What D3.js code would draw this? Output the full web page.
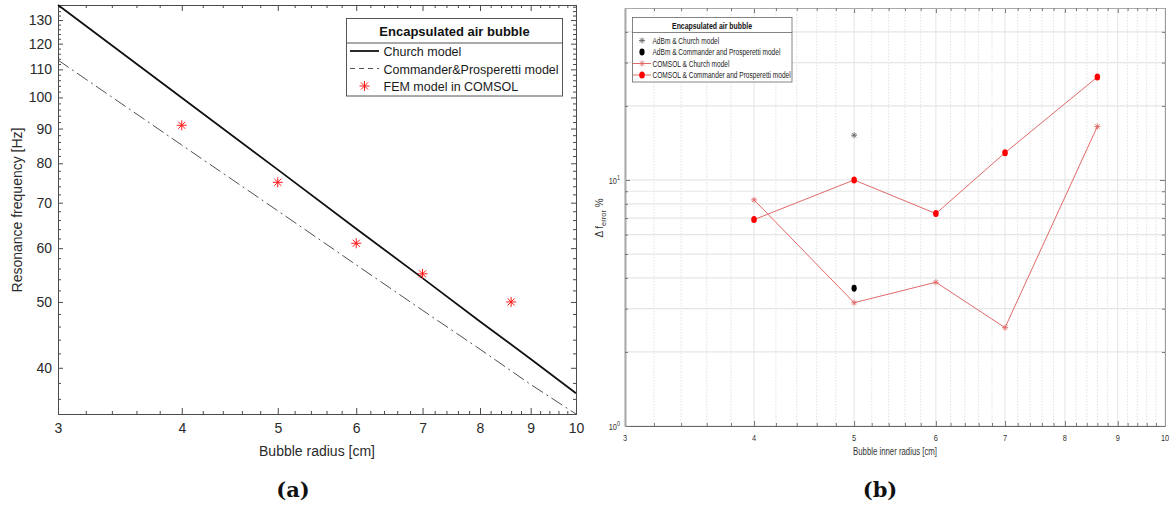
<!DOCTYPE html>
<html><head><meta charset="utf-8">
<script src="https://cdn.jsdelivr.net/npm/d3@7"></script>
<style>
html,body{margin:0;padding:0;background:#fff;}
svg{display:block;font-family:"Liberation Sans",Arial,sans-serif;}
</style></head>
<body><svg id="c" width="1174" height="508"></svg>
<script>
// ---------- Data, panel (a) ----------
const radiusA = [3, 4, 5, 6, 7, 8, 9, 10];
const churchFreq = [136.8, 99.9, 78.3, 64.1, 54.2, 46.8, 41.2, 36.7];
const cpFreq = [113.5, 85.1, 68.1, 56.7, 48.6, 42.6, 37.8, 34.2];
const femRadius = [4, 5, 6, 7, 8.6];
const femFreq = [91, 75, 61, 55, 50];
const xTicksA = [3, 4, 5, 6, 7, 8, 9, 10];
const yTicksA = [40, 50, 60, 70, 80, 90, 100, 110, 120, 130];
const legendA = ["Church model", "Commander&Prosperetti model", "FEM model in COMSOL"];

// ---------- Data, panel (b) ----------
const radiusB = [4, 5, 6, 7, 8.6];
const comsolChurch = [8.3, 3.17, 3.84, 2.51, 16.5];
const comsolCP = [6.9, 10.0, 7.3, 12.9, 26.2];
const adbmRadius = [5];
const adbmChurch = [15.2];
const adbmCP = [3.63];
const xTicksB = [3, 4, 5, 6, 7, 8, 9, 10];
const yTicksB = [1, 10];
const legendB = ["AdBm & Church model", "AdBm & Commander and Prosperetti model",
                 "COMSOL & Church model", "COMSOL & Commander and Prosperetti model"];

const svg = d3.select("#c");

function starPath(s) {
  const d = s * 0.707;
  return `M${-s},0L${s},0M0,${-s}L0,${s}M${-d},${-d}L${d},${d}M${-d},${d}L${d},${-d}`;
}

// ================= Panel (a) =================
(function () {
  const x = d3.scaleLog().domain([3, 10]).range([58, 576]);
  const y = d3.scaleLog().domain([34.2, 136.8]).range([414, 5]);
  const g = svg.append("g");
  const axisCol = "#4a4a4a", txtCol = "#2a2a2a";

  const minorX = d3.range(3, 10.001, 0.2).map(v => +v.toFixed(1)).filter(v => !xTicksA.includes(v));
  const minorY = d3.range(36, 137, 2).filter(v => !yTicksA.includes(v));

  function styleAxis(sel) {
    sel.select(".domain").attr("stroke", axisCol).attr("stroke-width", 1);
    sel.selectAll(".tick line").attr("stroke", axisCol);
    sel.selectAll("text").attr("fill", txtCol).attr("font-size", 14)
      .attr("font-family", "Liberation Sans, Arial, sans-serif");
  }
  g.append("g").attr("transform", "translate(0,414)")
    .call(d3.axisBottom(x).tickValues(xTicksA).tickFormat(d3.format("d")).tickSize(-6).tickPadding(9).tickSizeOuter(0))
    .call(styleAxis);
  g.append("g").attr("transform", "translate(0,414)")
    .call(d3.axisBottom(x).tickValues(minorX).tickFormat("").tickSize(-3).tickSizeOuter(0)).call(styleAxis);
  g.append("g").attr("transform", "translate(0,5)")
    .call(d3.axisTop(x).tickValues(xTicksA).tickFormat("").tickSize(-6).tickSizeOuter(0)).call(styleAxis);
  g.append("g").attr("transform", "translate(0,5)")
    .call(d3.axisTop(x).tickValues(minorX).tickFormat("").tickSize(-3).tickSizeOuter(0)).call(styleAxis);
  g.append("g").attr("transform", "translate(58,0)")
    .call(d3.axisLeft(y).tickValues(yTicksA).tickFormat(d3.format("d")).tickSize(-5).tickPadding(6).tickSizeOuter(0))
    .call(styleAxis);
  g.append("g").attr("transform", "translate(58,0)")
    .call(d3.axisLeft(y).tickValues(minorY).tickFormat("").tickSize(-3).tickSizeOuter(0)).call(styleAxis);
  g.append("g").attr("transform", "translate(576,0)")
    .call(d3.axisRight(y).tickValues(yTicksA).tickFormat("").tickSize(-5).tickSizeOuter(0)).call(styleAxis);
  g.append("g").attr("transform", "translate(576,0)")
    .call(d3.axisRight(y).tickValues(minorY).tickFormat("").tickSize(-3).tickSizeOuter(0)).call(styleAxis);

  const line = d3.line().x(d => x(d[0])).y(d => y(d[1]));
  g.append("path").datum(radiusA.map((r, i) => [r, cpFreq[i]]))
    .attr("d", line).attr("fill", "none").attr("stroke", "#505050").attr("stroke-width", 1)
    .attr("stroke-dasharray", "13,4,2,4");
  g.append("path").datum(radiusA.map((r, i) => [r, churchFreq[i]]))
    .attr("d", line).attr("fill", "none").attr("stroke", "#111").attr("stroke-width", 1.8);
  g.selectAll(".fem").data(femRadius.map((r, i) => [r, femFreq[i]])).enter().append("path")
    .attr("transform", d => `translate(${x(d[0])},${y(d[1])})`)
    .attr("d", starPath(5)).attr("stroke", "#ff1a1a").attr("stroke-width", 1).attr("fill", "none");

  g.append("text").attr("x", 317).attr("y", 456).attr("text-anchor", "middle")
    .attr("font-size", 14).attr("fill", txtCol).text("Bubble radius [cm]");
  g.append("text").attr("transform", "translate(22,210) rotate(-90)").attr("text-anchor", "middle")
    .attr("font-size", 14).attr("fill", txtCol).text("Resonance frequency [Hz]");

  const L = g.append("g");
  L.append("rect").attr("x", 346.5).attr("y", 18.5).attr("width", 216).attr("height", 77.5)
    .attr("fill", "#fff").attr("stroke", "#555").attr("stroke-width", 1);
  L.append("line").attr("x1", 346.5).attr("x2", 562.5).attr("y1", 43).attr("y2", 43).attr("stroke", "#555");
  L.append("text").attr("x", 454.5).attr("y", 36).attr("text-anchor", "middle")
    .attr("font-size", 13).attr("font-weight", "bold").attr("fill", "#111").text("Encapsulated air bubble");
  const ly = [51, 68.5, 86];
  L.append("line").attr("x1", 350).attr("x2", 379).attr("y1", ly[0]).attr("y2", ly[0]).attr("stroke", "#111").attr("stroke-width", 1.8);
  L.append("line").attr("x1", 350).attr("x2", 379).attr("y1", ly[1]).attr("y2", ly[1]).attr("stroke", "#505050").attr("stroke-width", 1).attr("stroke-dasharray", "5,4");
  L.append("path").attr("transform", `translate(364.5,${ly[2]})`).attr("d", starPath(5)).attr("stroke", "#ff1a1a").attr("fill", "none");
  L.selectAll(".lt").data(legendA).enter().append("text")
    .attr("x", 383.5).attr("y", (d, i) => ly[i] + 5).attr("font-size", 12.5).attr("fill", "#1a1a1a").text(d => d);

  svg.append("text").attr("x", 293).attr("y", 497).attr("text-anchor", "middle")
    .attr("font-family", "DejaVu Serif, Liberation Serif, serif").attr("font-weight", "bold")
    .attr("font-size", 21).attr("fill", "#111").text("(a)");
})();

// ================= Panel (b) =================
(function () {
  const x = d3.scaleLog().domain([3, 10]).range([625, 1165]);
  const y = d3.scaleLog().domain([1, 50]).range([426, 8]);
  const g = svg.append("g");
  const sx = 0.78, sxL = 0.73;

  const minorX = d3.range(3, 10.001, 0.2).map(v => +v.toFixed(1)).filter(v => !xTicksB.includes(v));
  const minorY = [2, 3, 4, 5, 6, 7, 8, 9, 20, 30, 40];

  g.selectAll(".gvm").data(minorX).enter().append("line")
    .attr("x1", d => x(d)).attr("x2", d => x(d)).attr("y1", 8).attr("y2", 426)
    .attr("stroke", "#e2e2e2").attr("stroke-dasharray", "1.5,1.5").attr("stroke-width", 1);
  g.selectAll(".gvM").data(xTicksB).enter().append("line")
    .attr("x1", d => x(d)).attr("x2", d => x(d)).attr("y1", 8).attr("y2", 426)
    .attr("stroke", "#e4e4e4").attr("stroke-width", 1);
  g.selectAll(".ghm").data(minorY).enter().append("line")
    .attr("y1", d => y(d)).attr("y2", d => y(d)).attr("x1", 625).attr("x2", 1165)
    .attr("stroke", "#e6e6e6").attr("stroke-width", 1.2);
  g.selectAll(".ghM").data(yTicksB).enter().append("line")
    .attr("y1", d => y(d)).attr("y2", d => y(d)).attr("x1", 625).attr("x2", 1165)
    .attr("stroke", "#e0e0e0").attr("stroke-width", 1);

  function styleAxis(col, w) {
    return sel => {
      sel.select(".domain").attr("stroke", col).attr("stroke-width", w);
      sel.selectAll(".tick line").attr("stroke", "#777");
    };
  }
  g.append("g").attr("transform", "translate(0,426)")
    .call(d3.axisBottom(x).tickValues(xTicksB).tickFormat("").tickSize(-5).tickSizeOuter(0)).call(styleAxis("#666", 1.2));
  g.append("g").attr("transform", "translate(0,426)")
    .call(d3.axisBottom(x).tickValues(minorX).tickFormat("").tickSize(-3).tickSizeOuter(0)).call(styleAxis("#666", 1.2));
  g.append("g").attr("transform", "translate(0,8)")
    .call(d3.axisTop(x).tickValues(xTicksB).tickFormat("").tickSize(-5).tickSizeOuter(0)).call(styleAxis("#aaa", 1));
  g.append("g").attr("transform", "translate(0,8)")
    .call(d3.axisTop(x).tickValues(minorX).tickFormat("").tickSize(-3).tickSizeOuter(0)).call(styleAxis("#aaa", 1));
  g.append("g").attr("transform", "translate(625,0)")
    .call(d3.axisLeft(y).tickValues(yTicksB).tickFormat("").tickSize(-5).tickSizeOuter(0)).call(styleAxis("#aaa", 1.6));
  g.append("g").attr("transform", "translate(625,0)")
    .call(d3.axisLeft(y).tickValues(minorY).tickFormat("").tickSize(-3).tickSizeOuter(0)).call(styleAxis("#aaa", 1.6));
  g.append("g").attr("transform", "translate(1165,0)")
    .call(d3.axisRight(y).tickValues(yTicksB).tickFormat("").tickSize(-5).tickSizeOuter(0)).call(styleAxis("#999", 1));
  g.append("g").attr("transform", "translate(1165,0)")
    .call(d3.axisRight(y).tickValues(minorY).tickFormat("").tickSize(-3).tickSizeOuter(0)).call(styleAxis("#999", 1));

  g.selectAll(".xl").data(xTicksB).enter().append("text")
    .attr("transform", d => `translate(${x(d)},441) scale(${sx},1)`).attr("text-anchor", "middle")
    .attr("font-size", 9.5).attr("fill", "#333").text(d => d);
  const yl = g.selectAll(".yl").data(yTicksB).enter().append("text")
    .attr("transform", d => `translate(620,${y(d) + 4}) scale(${sx},1)`).attr("text-anchor", "end")
    .attr("font-size", 9.5).attr("fill", "#333");
  yl.append("tspan").text("10");
  yl.append("tspan").attr("dy", -4).attr("font-size", 7).text(d => Math.round(Math.log10(d)));

  const line = d3.line().x(d => x(d[0])).y(d => y(d[1]));
  const lc = "#e06a6a";
  g.append("path").datum(radiusB.map((r, i) => [r, comsolChurch[i]]))
    .attr("d", line).attr("fill", "none").attr("stroke", lc).attr("stroke-width", 1);
  g.append("path").datum(radiusB.map((r, i) => [r, comsolCP[i]]))
    .attr("d", line).attr("fill", "none").attr("stroke", lc).attr("stroke-width", 1);
  g.selectAll(".cs").data(radiusB.map((r, i) => [r, comsolChurch[i]])).enter().append("path")
    .attr("transform", d => `translate(${x(d[0])},${y(d[1])})`).attr("d", starPath(3))
    .attr("stroke", lc).attr("fill", "none").attr("stroke-width", 0.9);
  g.selectAll(".cc").data(radiusB.map((r, i) => [r, comsolCP[i]])).enter().append("ellipse")
    .attr("cx", d => x(d[0])).attr("cy", d => y(d[1])).attr("rx", 2.8).attr("ry", 3.5).attr("fill", "#f00");
  g.selectAll(".as").data(adbmRadius.map((r, i) => [r, adbmChurch[i]])).enter().append("path")
    .attr("transform", d => `translate(${x(d[0])},${y(d[1])})`).attr("d", starPath(3))
    .attr("stroke", "#666").attr("fill", "none").attr("stroke-width", 0.9);
  g.selectAll(".ac").data(adbmRadius.map((r, i) => [r, adbmCP[i]])).enter().append("ellipse")
    .attr("cx", d => x(d[0])).attr("cy", d => y(d[1])).attr("rx", 2.6).attr("ry", 3.4).attr("fill", "#000");

  g.append("text").attr("transform", `translate(895,455) scale(${sx},1)`).attr("text-anchor", "middle")
    .attr("font-size", 10).attr("fill", "#333").text("Bubble inner radius [cm]");
  const ylab = g.append("text").attr("transform", "translate(603,218) rotate(-90)").attr("text-anchor", "middle")
    .attr("font-size", 10).attr("fill", "#333");
  ylab.append("tspan").text("\u0394 f");
  ylab.append("tspan").attr("dy", 3).attr("font-size", 7.5).text("error");
  ylab.append("tspan").attr("dy", -3).text(" %");

  const L = g.append("g");
  L.append("rect").attr("x", 632.5).attr("y", 17.5).attr("width", 159.5).attr("height", 64.5)
    .attr("fill", "#fff").attr("stroke", "#666").attr("stroke-width", 0.8);
  L.append("line").attr("x1", 632.5).attr("x2", 792).attr("y1", 32.5).attr("y2", 32.5).attr("stroke", "#666").attr("stroke-width", 0.8);
  L.append("text").attr("transform", `translate(712,28.5) scale(${sxL},1)`).attr("text-anchor", "middle")
    .attr("font-size", 9.5).attr("font-weight", "bold").attr("fill", "#111").text("Encapsulated air bubble");
  const ly = [40.5, 52, 63.5, 75];
  L.append("path").attr("transform", `translate(642,${ly[0]})`).attr("d", starPath(3)).attr("stroke", "#666").attr("fill", "none").attr("stroke-width", 0.9);
  L.append("ellipse").attr("cx", 642).attr("cy", ly[1]).attr("rx", 2.6).attr("ry", 3.4).attr("fill", "#000");
  L.append("line").attr("x1", 633).attr("x2", 651).attr("y1", ly[2]).attr("y2", ly[2]).attr("stroke", lc);
  L.append("path").attr("transform", `translate(642,${ly[2]})`).attr("d", starPath(3)).attr("stroke", lc).attr("fill", "none").attr("stroke-width", 0.9);
  L.append("line").attr("x1", 633).attr("x2", 651).attr("y1", ly[3]).attr("y2", ly[3]).attr("stroke", lc);
  L.append("ellipse").attr("cx", 642).attr("cy", ly[3]).attr("rx", 2.8).attr("ry", 3.5).attr("fill", "#f00");
  L.selectAll(".lt").data(legendB).enter().append("text")
    .attr("transform", (d, i) => `translate(652.5,${ly[i] + 3.2}) scale(${sxL},1)`)
    .attr("font-size", 9).attr("fill", "#222").text(d => d);

  svg.append("text").attr("x", 880).attr("y", 497).attr("text-anchor", "middle")
    .attr("font-family", "DejaVu Serif, Liberation Serif, serif").attr("font-weight", "bold")
    .attr("font-size", 21).attr("fill", "#111").text("(b)");
})();
</script></body></html>
